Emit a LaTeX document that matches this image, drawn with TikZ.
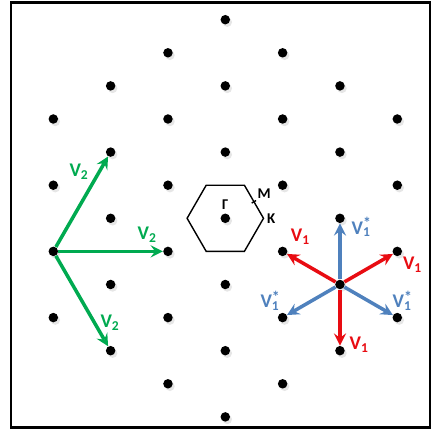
\documentclass[tikz,border=0pt]{standalone}
\usepackage{fontspec}
\setmainfont{Carlito}
\usetikzlibrary{arrows,positioning,calc,shadows}

\definecolor{vgreen}{RGB}{0,170,80}
\definecolor{vred}{RGB}{232,12,18}
\definecolor{vblue}{RGB}{79,129,189}

\newcommand{\Vtwo}{V\textsubscript{2}}
\newcommand{\Vone}{V\textsubscript{1}}
\newcommand{\Vstar}{V\rlap{\raisebox{0.55ex}{\small*}}\textsubscript{1}}

\begin{document}
\begin{tikzpicture}[
    site/.style={circle, fill=black, inner sep=0pt, minimum size=0.19cm,
        drop shadow={shadow xshift=0.04cm, shadow yshift=-0.05cm, opacity=0.2}},
    arrow/.style={->, >=stealth, line width=2pt},
    vlab/.style={font=\fontsize{11}{12}\selectfont\bfseries, inner sep=1pt},
    hlab/.style={font=\fontsize{8.5}{9}\selectfont\bfseries, inner sep=1pt},
    hexline/.style={line width=0.8pt}
]
    \useasboundingbox (0,0) rectangle (8.62,8.6);
    \draw[line width=1.2pt] (0.22,0.05) rectangle (8.6,8.55);

    % triangular lattice, sites within three spacings of the centre
    \foreach \m in {0,...,6}
        \foreach \n in {0,...,6} {
            \pgfmathtruncatemacro{\r}{(\m-3)*(\m-3)+(\n-3)*(\n-3)+(\m-3)*(\n-3)}
            \ifnum\r<10
                \node[site] (L\m\n) at ({4.506+1.1466*(\n-3)}, {4.234+1.324*(\m-3)+0.662*(\n-3)}) {};
            \fi
        }

    % zone round the centre site
    \draw[hexline] (L33.center) ++(0:0.764) -- ++(120:0.764) -- ++(180:0.764) -- ++(240:0.764)
        -- ++(300:0.764) -- ++(0:0.764) -- cycle;
    \coordinate (K) at ($(L33)+(0:0.764)$);
    \coordinate (M) at ($(L33)+(30:0.662)$);
    \draw[hexline] ($(L33)+(30:0.61)$) -- ($(L33)+(30:0.71)$);
    \node[hlab, above=0.04cm of L33] (gam) {Γ};
    \node[hlab, above right=0.02cm and 0.03cm of M] (mlab) {M};
    \node[hlab, right=0.03cm of K] (klab) {K};

    % second neighbours
    \draw[arrow, vgreen] (L40) -- (L51) node[vlab, pos=0.83, left=0.14cm] {\Vtwo};
    \draw[arrow, vgreen] (L40) -- (L32) node[vlab, pos=0.85, above=0.1cm] {\Vtwo};
    \draw[arrow, vgreen] (L40) -- (L21) node[vlab, pos=0.74, right=0.05cm] {\Vtwo};

    % first neighbours
    \draw[arrow, vred] (L15) -- (L24);
    \draw[arrow, vred] (L15) -- (L16);
    \draw[arrow, vred] (L15) -- (L05);
    \draw[arrow, vblue] (L15) -- (L25);
    \draw[arrow, vblue] (L15) -- (L14);
    \draw[arrow, vblue] (L15) -- (L06);

    \node[vlab, text=vred, above right=0.02cm and 0.05cm of L24] (r1) {\Vone};
    \node[vlab, text=vred, below right=0pt and 0pt of L16] (r2) {\Vone};
    \node[vlab, text=vred, right=0.05cm of L05, yshift=0.12cm] (r3) {\Vone};
    \node[vlab, text=vblue, right=0.09cm of L25, yshift=-0.18cm] (b1) {\Vstar};
    \node[vlab, text=vblue, above=0pt of L14, xshift=-0.25cm] (b2) {\Vstar};
    \node[vlab, text=vblue, above=0pt of L06, xshift=0.1cm] (b3) {\Vstar};
\end{tikzpicture}
\end{document}
